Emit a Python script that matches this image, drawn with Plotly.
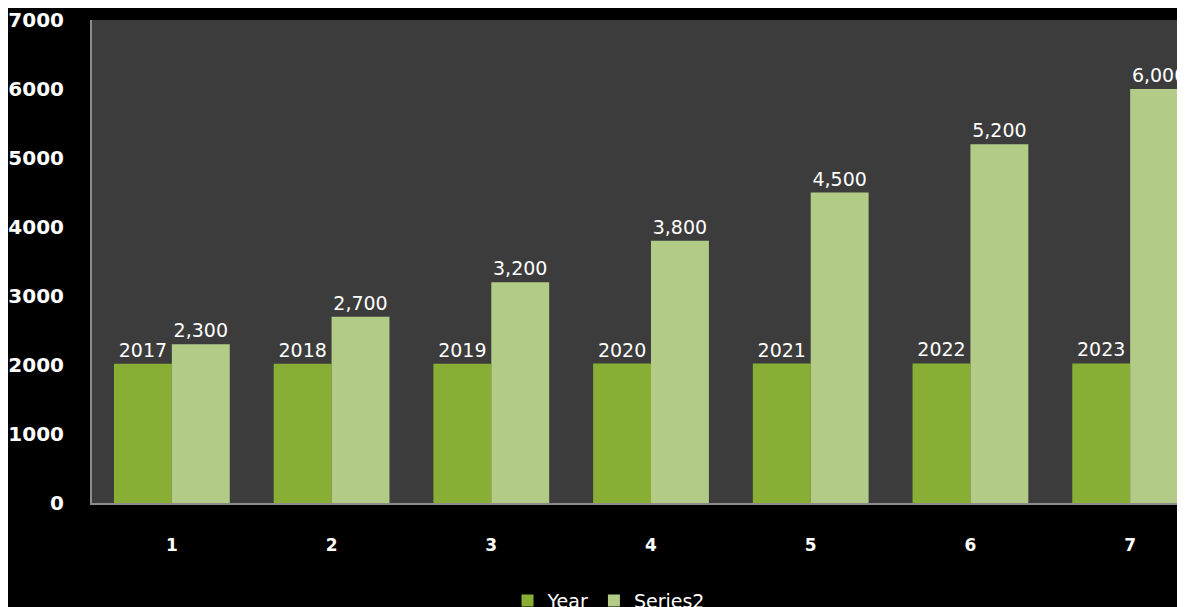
import plotly.graph_objects as go

categories = [1, 2, 3, 4, 5, 6, 7]
year_values = [2017, 2018, 2019, 2020, 2021, 2022, 2023]
series2_values = [2300, 2700, 3200, 3800, 4500, 5200, 6000]
y_ticks = [0, 1000, 2000, 3000, 4000, 5000, 6000, 7000]

# figure sits at the page's 8px body margin
W, H = 1202, 612
L, T = 82, 9
PLOT_BOTTOM = 500
B = H - PLOT_BOTTOM

label_font = dict(family="DejaVu Sans", size=19, color="white")

fig = go.Figure()
fig.add_trace(go.Bar(
    x=categories, y=year_values, name="Year",
    marker=dict(color="#89ae36", line=dict(width=0)),
    texttemplate="%{y:d}", textposition="outside", cliponaxis=False,
    textfont=label_font,
))
fig.add_trace(go.Bar(
    x=categories, y=series2_values, name="Series2",
    marker=dict(color="#b2cc88", line=dict(width=0)),
    texttemplate="%{y:,}", textposition="outside", cliponaxis=False,
    textfont=label_font,
))

fig.update_layout(
    width=W, height=H,
    margin=dict(l=L, r=0, t=T, b=B, pad=0),
    paper_bgcolor="black", plot_bgcolor="#3c3c3c",
    barmode="group", bargap=0.275, bargroupgap=0,
    font=dict(family="DejaVu Sans", color="white"),
    showlegend=True,
    legend=dict(orientation="h", x=0.462, xanchor="center", y=-0.163, yanchor="top",
                font=dict(size=19, color="white"), bgcolor="rgba(0,0,0,0)",
                itemwidth=30, tracegroupgap=0),
)
fig.update_xaxes(
    range=[0.5, 7.5], tickvals=categories, ticktext=[str(c) for c in categories],
    showgrid=False, zeroline=False, showline=True, linecolor="#8c8c8c", linewidth=2,
    ticks="", ticklabelstandoff=26,
    tickfont=dict(family="DejaVu Sans", size=17, color="white", weight="bold"),
)
fig.update_yaxes(
    range=[0, 7000], tickvals=y_ticks, ticktext=[str(v) for v in y_ticks],
    showgrid=False, zeroline=False, showline=True, linecolor="#8c8c8c", linewidth=2,
    ticks="", ticklabelstandoff=22, ticklabeloverflow="allow",
    tickfont=dict(family="DejaVu Sans", size=20, color="white", weight="bold"),
)

fig.write_html("out.html")
